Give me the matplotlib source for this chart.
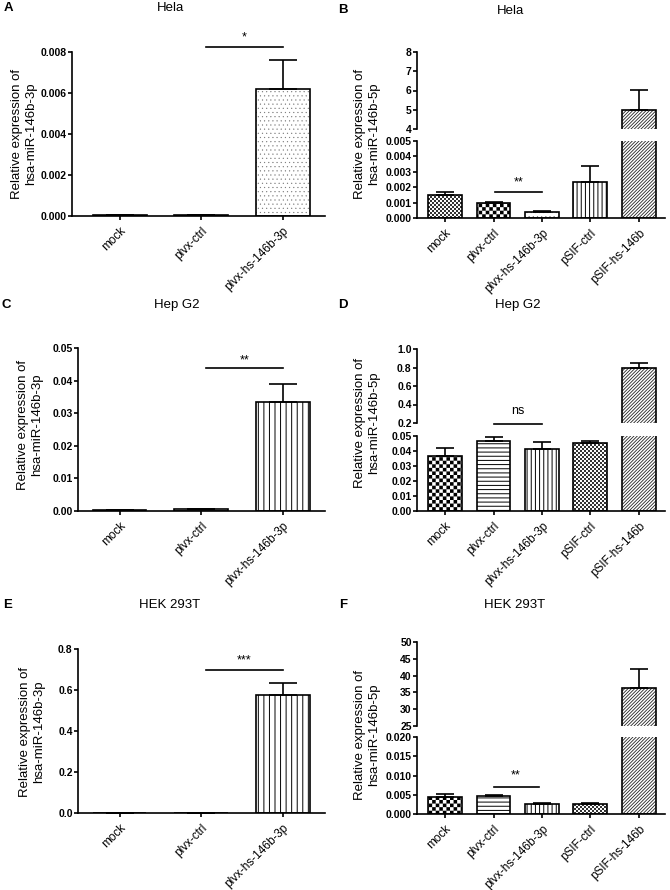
import warnings
import numpy as np
import matplotlib
matplotlib.use('Agg')
import matplotlib.pyplot as plt
import matplotlib.hatch as mhatch
from matplotlib.path import Path

warnings.filterwarnings('ignore')

# ---------------- data ----------------
groups3 = ['mock', 'plvx-ctrl', 'plvx-hs-146b-3p']
groups5 = ['mock', 'plvx-ctrl', 'plvx-hs-146b-3p', 'pSIF-ctrl', 'pSIF-hs-146b']

hela_3p_mean = [0.00003, 0.00004, 0.0062]
hela_3p_err = [0.0, 0.0, 0.0014]
hela_5p_mean = [0.0015, 0.00099, 0.00037, 0.00235, 4.98]
hela_5p_err = [0.0002, 0.00008, 0.00006, 0.00105, 1.05]

hepg2_3p_mean = [0.0004, 0.0006, 0.0333]
hepg2_3p_err = [0.0, 0.0, 0.0057]
hepg2_5p_mean = [0.0367, 0.0467, 0.0414, 0.0456, 0.80]
hepg2_5p_err = [0.0051, 0.0029, 0.0047, 0.0014, 0.045]

hek_3p_mean = [0.0, 0.0, 0.577]
hek_3p_err = [0.0, 0.0, 0.055]
hek_5p_mean = [0.0043, 0.0046, 0.0025, 0.0027, 36.3]
hek_5p_err = [0.0009, 0.0003, 0.0003, 0.0002, 5.7]

titles = ['Hela', 'Hela', 'Hep G2', 'Hep G2', 'HEK 293T', 'HEK 293T']
letters = ['A', 'B', 'C', 'D', 'E', 'F']
ylabel_3p = 'Relative expression of\nhsa-miR-146b-3p'
ylabel_5p = 'Relative expression of\nhsa-miR-146b-5p'


# ---------------- custom checkerboard hatch ----------------
class CheckerHatch(mhatch.HatchPatternBase):
    def __init__(self, hatch, density):
        n = 2 * hatch.count('c')
        self.n = n
        self.cells = [(i, j) for i in range(n) for j in range(n) if (i + j) % 2 == 0] if n else []
        self.num_vertices = 5 * len(self.cells)

    def set_vertices_and_codes(self, vertices, codes):
        s = 1.0 / self.n
        k = 0
        for i, j in self.cells:
            x0, y0 = i * s, j * s
            vertices[k:k + 5] = [(x0, y0), (x0 + s, y0), (x0 + s, y0 + s), (x0, y0 + s), (x0, y0)]
            codes[k:k + 5] = [Path.MOVETO, Path.LINETO, Path.LINETO, Path.LINETO, Path.CLOSEPOLY]
            k += 5


mhatch._hatch_types.append(CheckerHatch)

plt.rcParams['font.family'] = ['Liberation Sans', 'DejaVu Sans']

W, H = 670, 890
fig = plt.figure(figsize=(W / 100, H / 100), dpi=100)
LW = 1.2

# hatch styles: (pattern, hatch colour, hatch linewidth)
DOTS = ('....', '#777777', 0.3)
VERT = ('||||', 'black', 0.7)
VERT3 = ('|||', 'black', 0.7)
HORIZ = ('----', 'black', 0.7)
DIAG = ('/' * 10, '#222222', 0.6)
CHECK = ('c' * 14, 'black', 0.01)
FINE = ('c' * 25, '#333333', 0.01)
PLAIN = ('', 'black', 0.5)


def add_ax(l, t, r, b):
    return fig.add_axes([l / W, 1 - b / H, (r - l) / W, (b - t) / H])


def style(ax, yticks, fmt, bottom=True):
    for s in ['top', 'right']:
        ax.spines[s].set_visible(False)
    ax.spines['left'].set_linewidth(LW)
    ax.spines['bottom'].set_linewidth(LW)
    ax.set_yticks(yticks)
    ax.set_yticklabels([fmt % v for v in yticks], fontweight='bold', fontsize=7.5)
    ax.tick_params(axis='y', direction='out', length=3, width=LW, pad=0.8)
    ax.set_ylim(yticks[0], yticks[-1])
    if not bottom:
        ax.spines['bottom'].set_visible(False)
        ax.tick_params(axis='x', bottom=False, labelbottom=False)


def draw_bars(ax, means, errs, styles, bw, capsize):
    x = np.arange(len(means))
    for xi, m, st in zip(x, means, styles):
        pat, hc, hl = st
        with plt.rc_context({'hatch.linewidth': hl}):
            bars = ax.bar(xi, m, width=bw, color='white', edgecolor=hc, linewidth=0,
                          hatch=pat if pat else None, zorder=2)
        for p in bars:
            if hasattr(p, 'set_hatch_linewidth'):
                p.set_hatch_linewidth(hl)
    ax.bar(x, means, width=bw, fill=False, edgecolor='black', linewidth=LW, zorder=3)
    ax.errorbar(x, means, yerr=[np.zeros(len(errs)), errs], fmt='none', ecolor='black',
                elinewidth=LW, capsize=capsize, capthick=LW, zorder=4)


def xlabels(ax, labels):
    ax.set_xticks(np.arange(len(labels)))
    ax.set_xticklabels(labels, rotation=45, ha='right', va='top', rotation_mode='anchor', fontsize=8.5)
    ax.tick_params(axis='x', direction='out', length=3, width=LW, pad=3.5)


def sig(ax, x0, x1, yline, ytext, txt):
    ax.plot([x0, x1], [yline, yline], color='black', lw=LW, clip_on=False, zorder=5)
    ax.text((x0 + x1) / 2, ytext, txt, ha='center', va='center', fontsize=9, clip_on=False)


def simple_panel(rect, means, errs, styles, yticks, fmt, xl, sigspec):
    ax = add_ax(*rect)
    draw_bars(ax, means, errs, styles, 0.66, 10)
    style(ax, yticks, fmt)
    ax.set_xlim(xl)
    xlabels(ax, groups3)
    sig(ax, *sigspec)
    return ax


def broken_panel(rect_up, rect_lo, means, errs, styles, yt_up, fmt_up, yt_lo, fmt_lo, sigspec):
    axu = add_ax(*rect_up)
    axl = add_ax(*rect_lo)
    for ax in (axu, axl):
        draw_bars(ax, means, errs, styles, 0.70, 6.5)
        ax.set_xlim(-0.58, 4.54)
    style(axu, yt_up, fmt_up, bottom=False)
    style(axl, yt_lo, fmt_lo)
    xlabels(axl, groups5)
    sig(axl, *sigspec)
    return axu, axl


# A
simple_panel((72, 52, 325, 216), hela_3p_mean, hela_3p_err, [PLAIN, PLAIN, DOTS],
             [0, 0.002, 0.004, 0.006, 0.008], '%.3f', (-0.585, 2.52),
             (1.06, 2.0, 0.00824, 0.0087, '*'))
# B
broken_panel((417, 52, 665, 129), (417, 141, 665, 218), hela_5p_mean, hela_5p_err,
             [FINE, CHECK, DOTS, VERT, DIAG],
             [4, 5, 6, 7, 8], '%d', [0, 0.001, 0.002, 0.003, 0.004, 0.005], '%.3f',
             (1.03, 2.0, 0.0017, 0.00232, '**'))
# C
simple_panel((78, 348, 325, 511), hepg2_3p_mean, hepg2_3p_err, [PLAIN, PLAIN, VERT3],
             [0, 0.01, 0.02, 0.03, 0.04, 0.05], '%.2f', (-0.51, 2.52),
             (1.06, 2.0, 0.0438, 0.0462, '**'))
# D
broken_panel((417, 349, 665, 423), (417, 436, 665, 511), hepg2_5p_mean, hepg2_5p_err,
             [CHECK, HORIZ, VERT, FINE, DIAG],
             [0.2, 0.4, 0.6, 0.8, 1.0], '%.1f', [0, 0.01, 0.02, 0.03, 0.04, 0.05], '%.2f',
             (1.0, 2.0, 0.058, 0.067, 'ns'))
# E
simple_panel((78, 649, 325, 813), hek_3p_mean, hek_3p_err, [PLAIN, PLAIN, VERT3],
             [0, 0.2, 0.4, 0.6, 0.8], '%.1f', (-0.51, 2.52),
             (1.06, 2.0, 0.699, 0.745, '***'))
# F
broken_panel((417, 642, 665, 726), (417, 737, 665, 814), hek_5p_mean, hek_5p_err,
             [CHECK, HORIZ, VERT, FINE, DIAG],
             [25, 30, 35, 40, 45, 50], '%d', [0, 0.005, 0.010, 0.015, 0.020], '%.3f',
             (1.0, 1.93, 0.0069, 0.0100, '**'))

# titles, letters, y labels
title_pos = [(170, 8), (510, 11), (177, 305), (518, 305), (170, 605), (515, 605)]
letter_pos = [(8, 8), (343, 10), (6, 305), (343, 305), (8, 605), (343, 605)]
ylab_pos = [(24, 134), (367, 134), (30, 425), (367, 423), (32, 732), (367, 735)]
ylabs = [ylabel_3p, ylabel_5p, ylabel_3p, ylabel_5p, ylabel_3p, ylabel_5p]

for t, (x, y) in zip(titles, title_pos):
    fig.text(x / W, 1 - y / H, t, ha='center', va='center', fontsize=9.5)
for t, (x, y) in zip(letters, letter_pos):
    fig.text(x / W, 1 - y / H, t, ha='center', va='center', fontsize=9.5, fontweight='bold')
for t, (x, y) in zip(ylabs, ylab_pos):
    fig.text(x / W, 1 - y / H, t, ha='center', va='center', rotation=90, fontsize=9.5,
             multialignment='center', linespacing=1.3)

fig.savefig('out.png', dpi=100)
